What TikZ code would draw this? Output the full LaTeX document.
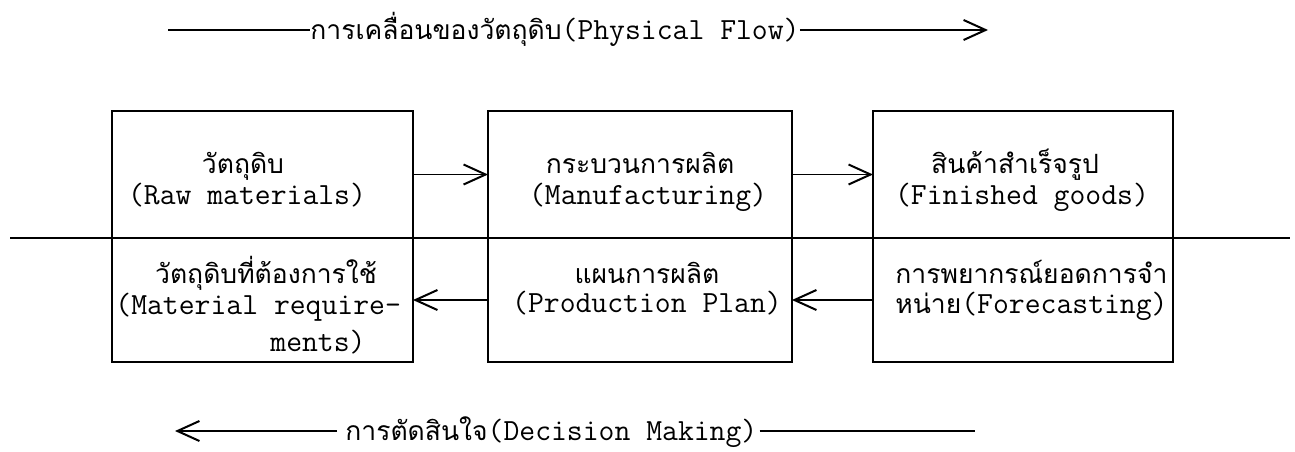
\documentclass[tikz,border=0pt]{standalone}
\usepackage{fontspec}
\newfontfamily\thaif[Script=Thai,Scale=0.86]{Loma}
\usetikzlibrary{arrows.meta}
\begin{document}
\begin{tikzpicture}[x=0.5pt,y=-0.5pt,
  box/.style={draw, line width=1pt, inner sep=0pt, outer sep=0pt},
  topbox/.style={box, minimum height=63.5pt},
  botbox/.style={box, minimum height=62pt},
  lbl/.style={inner sep=0pt, anchor=base, font=\ttfamily\addfontfeature{FakeBold=0.4}\fontsize{15.4pt}{18pt}\selectfont},
  lblw/.style={lbl, anchor=base west},
  arr/.style={line width=0.8pt, -{Straight Barb[length=11pt,width=10pt,line width=1pt]}},
  flow/.style={line width=0.8pt},
]
\useasboundingbox (0,0) rectangle (1295,451);
\fill[white] (0,0) rectangle (1295,451);

% boxes
\node[topbox, minimum width=150.5pt] (rm) at (262.5,174.5) {};
\node[botbox, minimum width=150.5pt] (mr) at (262.5,300) {};
\node[topbox, minimum width=152pt] (mf) at (640,174.5) {};
\node[botbox, minimum width=152pt] (pp) at (640,300) {};
\node[topbox, minimum width=150pt] (fg) at (1023,174.5) {};
\node[botbox, minimum width=150pt] (fc) at (1023,300) {};

% separator line
\coordinate (sepL) at (10,238);
\coordinate (sepR) at (1290,238);
\draw[line width=1pt] (sepL) -- (sepR);

% texts
\node[lbl] (rmT) at (243,173) {\thaif วัตถุดิบ};
\node[lbl] (rmE) at (247,204) {(Raw materials)};
\node[lbl] (mfT) at (640,173) {\thaif กระบวนการผลิต};
\node[lbl] (mfE) at (648,204) {(Manufacturing)};
\node[lbl] (fgT) at (1015,173) {\thaif สินค้าสำเร็จรูป};
\node[lbl] (fgE) at (1022,204) {(Finished goods)};

\node[lbl] (mrT) at (266,283) {\thaif วัตถุดิบที่ต้องการใช้};
\node[lblw] (mrE) at (115,314) {(Material require-};
\node[lblw] (mrE2) at (270,351) {ments)};
\node[lbl] (ppT) at (647,283) {\thaif แผนการผลิต};
\node[lbl] (ppE) at (647,312) {(Production Plan)};
\node[lblw] (fcT) at (895,283) {\thaif การพยากรณ์ยอดการจำ};
\node[lblw] (fcE) at (895,313) {{\thaif หน่าย}(Forecasting)};

% arrows between boxes
\draw[arr] (rm.east) -- (mf.west);
\draw[arr] (mf.east) -- (fg.west);
\draw[arr] (fc.west) -- (pp.east);
\draw[arr] (pp.west) -- (mr.east);

% physical flow
\node[lblw] (pf) at (310,39) {{\thaif การเคลื่อนของวัตถุดิบ}(Physical Flow)};
\coordinate (pfL) at (168,30);
\coordinate (pfR) at (988,30);
\draw[flow] (pfL) -- (pfL -| pf.west);
\draw[arr] (pfR -| pf.east) -- (pfR);

% decision making
\node[lblw] (dm) at (345,440) {{\thaif การตัดสินใจ}(Decision Making)};
\coordinate (dmL) at (175,431);
\coordinate (dmR) at (975,431);
\draw[arr] ([xshift=-4pt]dmL -| dm.west) -- (dmL);
\draw[flow] ([xshift=1pt]dmR -| dm.east) -- (dmR);
\end{tikzpicture}
\end{document}
